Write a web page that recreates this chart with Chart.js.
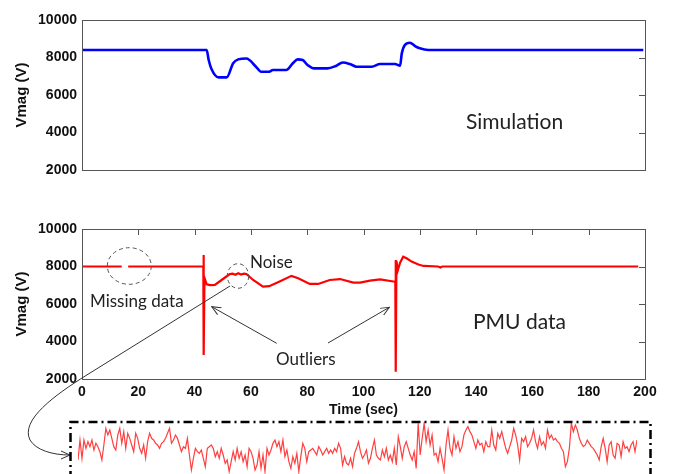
<!DOCTYPE html>
<html>
<head>
<meta charset="utf-8">
<script src="https://cdn.jsdelivr.net/npm/chart.js@4.4.1/dist/chart.umd.min.js"></script>
<style>
  html, body { margin: 0; padding: 0; background: #fff; }
  #wrap { position: relative; width: 681px; height: 474px; overflow: hidden; }
  #wrap canvas, #wrap svg, .note { position: absolute; }
  .note { font-family: Lato, "Open Sans", sans-serif; color: #222; line-height: 1; white-space: nowrap; }
</style>
</head>
<body>
<div id="wrap">
  <canvas id="simChart" width="681" height="190" style="left:0;top:0"></canvas>
  <canvas id="pmuChart" width="681" height="230" style="left:0;top:200px"></canvas>
  <canvas id="noiseChart" width="559" height="52" style="left:78px;top:422px"></canvas>

  <svg width="681" height="474" style="left:0;top:0;pointer-events:none">
    <defs>
      <marker id="head" markerWidth="10" markerHeight="10" refX="9" refY="5" orient="auto" markerUnits="userSpaceOnUse">
        <path d="M0,1 L9,5 L0,9" fill="none" stroke="#333" stroke-width="1"/>
      </marker>
    </defs>
    <!-- missing data / noise -->
    <ellipse cx="129.3" cy="266" rx="22" ry="18.3" fill="none" stroke="#555" stroke-width="1" stroke-dasharray="4 3"/>
    <ellipse cx="238" cy="276" rx="10.7" ry="12.3" fill="none" stroke="#555" stroke-width="1" stroke-dasharray="4 3"/>
    <!-- outliers -->
    <line x1="276.7" y1="343.3" x2="211.7" y2="306.7" stroke="#333" stroke-width="1" marker-end="url(#head)"/>
    <line x1="328" y1="343" x2="389.3" y2="307.3" stroke="#333" stroke-width="1" marker-end="url(#head)"/>
    <!-- zoom arrow to the noise inset -->
    <path d="M230,286 L86,375.5 C55,395 20,420 30,440 C36,450 52,455 70,455" fill="none" stroke="#333" stroke-width="1" marker-end="url(#head)"/>
    <!-- inset frame -->
    <path d="M70.5,480 L70.5,422 L650.5,422 L650.5,480" fill="none" stroke="#000" stroke-width="2.5" stroke-dasharray="9 4 2 4"/>
  </svg>

  <div class="note" style="left:466px;top:110px;font-size:21px">Simulation</div>
  <div class="note" style="left:473px;top:310px;font-size:21px">PMU data</div>
  <div class="note" style="left:90px;top:292px;font-size:17px">Missing data</div>
  <div class="note" style="left:250px;top:253px;font-size:17px">Noise</div>
  <div class="note" style="left:276px;top:350px;font-size:17px">Outliers</div>
</div>

<script>
// simulated voltage magnitude (blue)
const simTime = [0, 44.3, 45, 46, 48.5, 51.4, 53.7, 55.5, 58.4, 61.8, 63.6, 66.5, 67.8, 72.5, 74.9, 76.6, 78.4, 80.1, 82.5, 87.2, 90.2, 92.6, 95.2, 97.6, 102.9, 105.9, 111.2, 113, 113.6, 114.7, 116.5, 118.3, 120, 123, 199.4];
const simVolt = [8400, 8400, 7870, 7390, 6940, 6940, 7690, 7900, 7950, 7510, 7240, 7240, 7330, 7330, 7690, 7900, 7870, 7600, 7420, 7420, 7550, 7730, 7650, 7510, 7510, 7650, 7650, 7560, 8220, 8670, 8790, 8610, 8490, 8400, 8400];

// measured PMU voltage (red), null = missing samples
const pmuTime = [0, 14.1, 14.2, 16.4, 43.1, 43.15, 43.3, 43.5, 44.3, 45.5, 47.2, 49.6, 52.5, 53.5, 54.5, 55.5, 56.5, 57.5, 58.4, 60.8, 64.3, 66.5, 70.2, 74.4, 76.8, 80.9, 83.9, 88, 91.7, 96.4, 98.8, 102.3, 105.9, 110.6, 111.3, 111.4, 111.5, 111.7, 112.2, 113, 114.1, 115.3, 117.1, 119.5, 121.3, 126.5, 127.3, 128, 197.6];
const pmuVolt = [8000, 8000, null, 8000, 8000, 8610, 3280, 7400, 7050, 7010, 7013, 7280, 7600, 7620, 7560, 7640, 7570, 7620, 7600, 7280, 6930, 6950, 7200, 7500, 7370, 7070, 7070, 7280, 7330, 7140, 7140, 7250, 7310, 7200, 7200, 8350, 2390, 8300, 7800, 8200, 8520, 8440, 8260, 8110, 8030, 8000, 7950, 8000, 8000];

// zoomed-in noise trace (deviation, V)
const noiseDev = [
  -35, 25, -30, 25, 0, 20, 5, 25, -5, 15, 5, -10, -35, 10, 60, 40, 55, 30, 5, -5, 40, 60, 15, 50, 0, 45, 30, 10, -10, 45, 30, 0, -15, 10, -30, 20, 45, 30, 25, 15, 10, 0, 15, 20, 30, 45, 60, 15, 25, 40, 30, 10, -10, 5, 0, 30, -20, -65, -30, 0, -10, -15, -5,
  -30, -55, 0, 5, 10, 0, -25, -10, -30, 0, -20, -45, -35, -70, -40, -10, -35, 0, -30, -10, -40, -20, -55, 0, -10, -30, -65, -50, -10, -60, -20, -70, 0, -20, -5, 15, 25, 5, 20, -10, 25, -25, -5, -40, -60, -25, -45, -15, -70, -25, 15, 0, -40, -10, -5, 0, -10, -20, 5, -5, -20, -10, 0, -15, -5, -15, 0, -10, 15, 0, -50, -25,
  -45, -50, -30, -55, -15, 0, 20, -10, -30, -20, -5, -45, -30, 0, 25, -20, -30, -35, -5, -25, 0, -35, -20, -40, 0, -50, 35, 5, -30, 5, 20, 0, -20, -35, -10, -60, 75, -20, 30, 75, 20, 55, 10, 40, -20, -15, -40, 0, -30, -65, 10, 55, 0, -20, 35, 0, 20, -10, 5, 40, 55, 65, 50, 40, 20, 0, 25, 10, 15, -10, 20, 5,
  5, 55, 10, -5, 45, 30, 50, 25, 0, -15, 5, 25, 60, 40, 10, -35, 30, 20, 35, 5, 15, 30, 55, 20, 0, 35, 10, 20, 0, 55, 30, 40, 25, 30, 20, 15, 0, -10, -55, -40, 0, 75, 50, 70, 55, 30, 15, 5, 10, 25, 15, 5, 0, -10, -20, -35, 5, 30, 0, -40, 10, 20, -20, -30, 15, 10, -25, 20, 0, 5, -10, 10, 20, -10, 25
];

const yTickValues = [4000, 6000, 8000];
const xTickValues = [20, 40, 60, 80, 100, 120, 140, 160, 180];

// box round the plot + matlab style inner ticks
const frameTicks = {
    id: 'frameTicks',
    afterDraw(chart, args, opts) {
        const { ctx, chartArea: a, scales } = chart;
        ctx.save();
        ctx.strokeStyle = '#555';
        ctx.lineWidth = 1;
        ctx.strokeRect(Math.round(a.left) + 0.5, Math.round(a.top) + 0.5, Math.round(a.right - a.left), Math.round(a.bottom - a.top));
        ctx.beginPath();
        (opts.yTicks || []).forEach(v => {
            const y = Math.round(scales.y.getPixelForValue(v)) + 0.5;
            ctx.moveTo(a.right - 6, y);
            ctx.lineTo(a.right, y);
        });
        (opts.xTicks || []).forEach(v => {
            const x = Math.round(scales.x.getPixelForValue(v)) + 0.5;
            ctx.moveTo(x, a.top);
            ctx.lineTo(x, a.top + 6);
        });
        ctx.stroke();
        ctx.restore();
    }
};

const tickFont = { family: '"Liberation Sans", Arial, sans-serif', size: 14, weight: 'bold' };
const titleFont = { family: '"Liberation Sans", Arial, sans-serif', size: 15, weight: 'bold' };

function yAxis() {
    return {
        min: 2000, max: 10000,
        ticks: { stepSize: 2000, font: tickFont, color: '#111', padding: 5, callback: v => String(v) },
        grid: { display: false, drawTicks: false },
        border: { display: false },
        title: { display: true, text: 'Vmag (V)', font: titleFont, color: '#111', padding: { top: 13, bottom: 0 } },
        afterFit: scale => { scale.width = 82; }
    };
}

const baseOpts = {
    responsive: false,
    animation: false,
    plugins: { legend: { display: false }, tooltip: { enabled: false } }
};

// Simulation chart
new Chart(document.getElementById('simChart'), {
    type: 'line',
    data: {
        datasets: [{
            data: simTime.map((t, i) => ({ x: t, y: simVolt[i] })),
            borderColor: '#0000ff', borderWidth: 2.6, pointRadius: 0,
            cubicInterpolationMode: 'monotone', fill: false
        }]
    },
    options: {
        ...baseOpts,
        layout: { padding: { top: 20, right: 36, bottom: 20, left: 0 } },
        scales: {
            x: { type: 'linear', min: 0, max: 200, display: false },
            y: yAxis()
        },
        plugins: { ...baseOpts.plugins, frameTicks: { yTicks: yTickValues } }
    },
    plugins: [frameTicks]
});

// PMU chart
new Chart(document.getElementById('pmuChart'), {
    type: 'line',
    data: {
        datasets: [{
            data: pmuTime.map((t, i) => ({ x: t, y: pmuVolt[i] })),
            borderColor: '#ff0000', borderWidth: 2.2, pointRadius: 0,
            tension: 0, spanGaps: false, fill: false
        }]
    },
    options: {
        ...baseOpts,
        layout: { padding: { top: 29, right: 36, bottom: 0, left: 0 } },
        scales: {
            x: {
                type: 'linear', min: 0, max: 200,
                ticks: { stepSize: 20, font: tickFont, color: '#111', padding: 5, maxRotation: 0, callback: v => String(v) },
                grid: { display: false, drawTicks: false },
                border: { display: false },
                title: { display: true, text: 'Time (sec)', font: tickFont, color: '#111', padding: { top: 0, bottom: 11 } },
                afterFit: scale => { scale.height = 51; }
            },
            y: yAxis()
        },
        plugins: { ...baseOpts.plugins, frameTicks: { yTicks: yTickValues, xTicks: xTickValues } }
    },
    plugins: [frameTicks]
});

// Noise inset
new Chart(document.getElementById('noiseChart'), {
    type: 'line',
    data: {
        labels: noiseDev.map((_, i) => i),
        datasets: [{
            data: noiseDev,
            borderColor: 'rgba(255, 30, 30, 0.85)', borderWidth: 1.2, pointRadius: 0, tension: 0, fill: false
        }]
    },
    options: {
        ...baseOpts,
        layout: { padding: 0 },
        scales: {
            x: { display: false, offset: false },
            y: { display: false, min: -77, max: 79 }
        }
    }
});
</script>
</body>
</html>
